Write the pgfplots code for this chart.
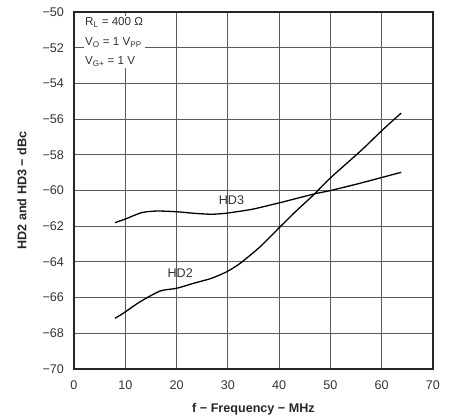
\documentclass[border=0pt]{standalone}
\usepackage{pgfplots}
\pgfplotsset{compat=1.18}
\usepackage{fontspec}
\setmainfont{Liberation Sans}
\begin{document}
\fontsize{10}{12}\selectfont
\begin{tikzpicture}
\path[use as bounding box] (-74pt,-51pt) rectangle (379pt,369pt);
\begin{axis}[
  at={(0pt,0pt)}, anchor=south west,
  scale only axis=true,
  width=359pt, height=357pt,
  xmin=0, xmax=70, ymin=-70, ymax=-50,
  xtick={0,10,...,70},
  ytick={-70,-68,...,-50},
  yticklabels={−70,−68,−66,−64,−62,−60,−58,−56,−54,−52,−50},
  /pgf/number format/assume math mode=true,
  xmajorgrids=true, ymajorgrids=true,
  every axis grid/.style={draw=black!65, line width=1pt},
  axis line style={line width=1.3pt, black!85},
  major tick length=0pt,
  ticklabel style={font=\fontsize{12.6}{14}\selectfont, text=black!80},
  xticklabel style={anchor=north, yshift=-8.5pt},
  yticklabel style={anchor=east, xshift=-6.5pt},
  xlabel={f − Frequency − MHz},
  ylabel={HD2 and HD3 − dBc},
  label style={font=\fontsize{12.6}{14}\selectfont\bfseries, text=black!85},
  xlabel style={at={(axis description cs:0.5,-0.112)}, anchor=center},
  ylabel style={at={(axis description cs:-0.145,0.5)}, anchor=center},
  clip=false,
]
\addplot[black, line width=1.3pt, smooth, tension=0.4] coordinates {
(8.0,-61.80) (10.0,-61.60) (13.2,-61.24) (16.1,-61.15) (20.0,-61.19) (23.5,-61.28) (26.8,-61.33) (29.5,-61.28) (31.7,-61.19) (34.95,-61.04) (40.2,-60.68) (44.0,-60.40) (47.3,-60.16) (49.9,-60.01) (55.7,-59.60) (63.8,-58.98)
};
\addplot[black, line width=1.3pt, smooth, tension=0.4] coordinates {
(8.0,-67.16) (9.6,-66.88) (12.9,-66.23) (16.8,-65.63) (20.0,-65.48) (23.3,-65.20) (26.8,-64.92) (29.8,-64.55) (32.4,-64.08) (36.3,-63.15) (40.2,-62.03) (43.5,-61.10) (46.7,-60.25) (49.9,-59.32) (56.1,-57.73) (60.0,-56.65) (63.8,-55.66)
};
\node[font=\fontsize{12.6}{14}\selectfont, text=black!80] at (axis cs:30.7,-60.55) {HD3};
\node[font=\fontsize{12.6}{14}\selectfont, text=black!80] at (axis cs:20.7,-64.6) {HD2};
\node[anchor=north west, fill=white, inner sep=1.5pt, align=left, font=\fontsize{11.6}{19.5}\selectfont, text=black!80]
  at (axis cs:1.85,-50.22) {R\textsubscript{L} = 400 Ω\\V\textsubscript{O} = 1 V\textsubscript{PP}\\V\textsubscript{G+} = 1 V};
\end{axis}
\end{tikzpicture}
\end{document}
